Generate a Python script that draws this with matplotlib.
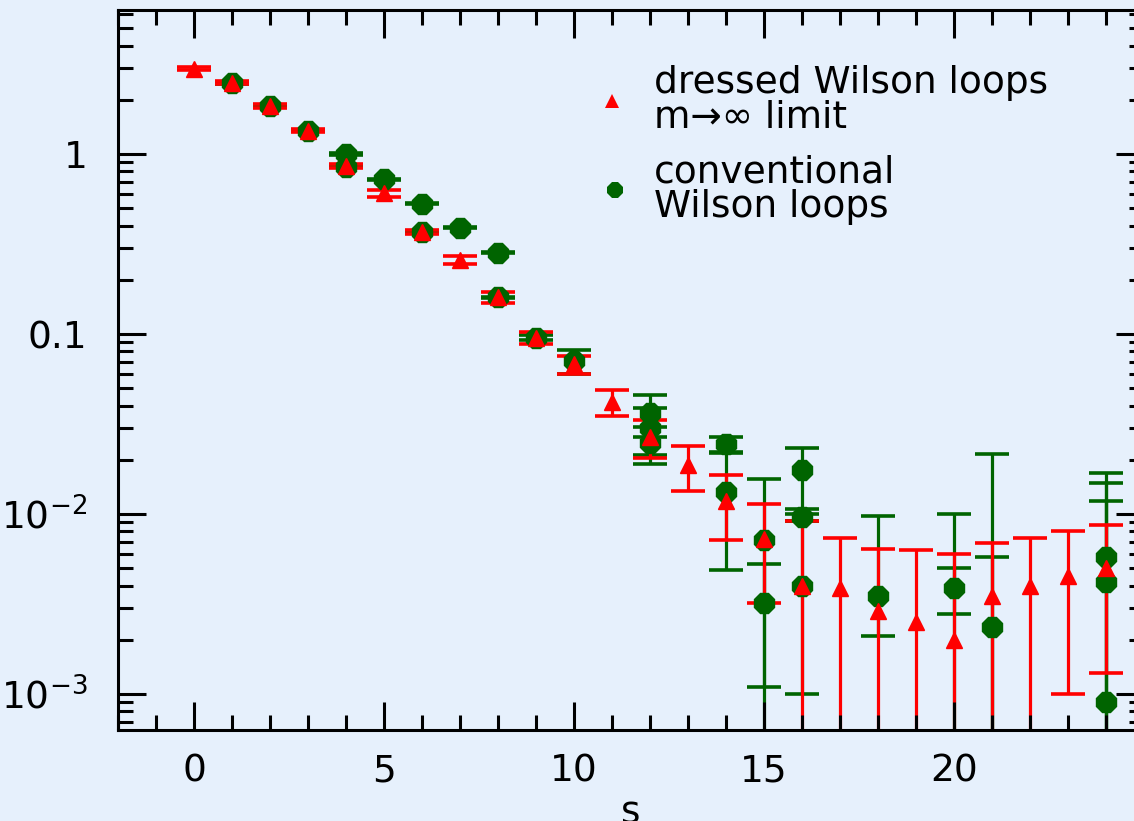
import matplotlib
matplotlib.use('Agg')
import matplotlib.pyplot as plt
import numpy as np
from matplotlib.ticker import FixedLocator, FixedFormatter, MultipleLocator, LogLocator, NullFormatter

# dressed Wilson loops, m -> infinity limit
s_dressed = [0, 1, 2, 3, 4, 5, 6, 7, 8, 9, 10, 11, 12, 13, 14, 15, 16, 17, 18, 19, 20, 21, 22, 23, 24]
w_dressed = [2.97, 2.49, 1.85, 1.35, 0.86, 0.605, 0.370, 0.258, 0.160, 0.0955, 0.068, 0.0421, 0.0268,
             0.0187, 0.0118, 0.0073, 0.0040, 0.0039, 0.0029, 0.0025, 0.0020, 0.0035, 0.0040, 0.0045, 0.0050]
err_dressed = [0.06, 0.05, 0.04, 0.03, 0.02, 0.025, 0.01, 0.012, 0.011, 0.0075, 0.0078, 0.0069, 0.0064,
               0.0052, 0.0046, 0.0041, 0.0052, 0.0035, 0.0035, 0.0038, 0.0040, 0.0034, 0.0034, 0.0035, 0.0037]

# conventional Wilson loops (several entries at some s)
s_conv = [1, 2, 3, 4, 4, 5, 6, 6, 7, 8, 8, 9, 10, 12, 12, 12, 14, 14, 15, 15,
          16, 16, 16, 18, 20, 20, 21, 21, 24, 24, 24]
w_conv = [2.47, 1.85, 1.35, 1.00, 0.85, 0.723, 0.529, 0.370, 0.390, 0.283, 0.160, 0.0955, 0.071,
          0.0363, 0.0300, 0.0247, 0.0245, 0.0133, 0.0072, 0.0032,
          0.0175, 0.0096, 0.0040, 0.0035, 0.0039, 0.0005, 0.00237, 0.0005, 0.0058, 0.0042, 0.0009]
errlo_conv = [0.02, 0.015, 0.01, 0.008, 0.007, 0.006, 0.004, 0.003, 0.003, 0.002, 0.0015, 0.003, 0.011,
              0.0096, 0.0088, 0.0058, 0.0024, 0.0084, 0.0084, 0.0021,
              0.0068, 0.0004, 0.0030, 0.0014, 0.0011, 0.0095, 0.0034, 0.021, 0.011, 0.0106, 0.0109]
errhi_conv = [0.02, 0.015, 0.01, 0.008, 0.007, 0.006, 0.004, 0.003, 0.003, 0.002, 0.0015, 0.003, 0.011,
              0.0096, 0.0088, 0.0058, 0.0024, 0.0084, 0.0084, 0.0021,
              0.0058, 0.0004, 0.0052, 0.0063, 0.0011, 0.0095, 0.0034, 0.021, 0.011, 0.0106, 0.0109]

legend_dressed = 'dressed Wilson loops\nm\u2192\u221e limit'
legend_conv = 'conventional\nWilson loops'

xtick_vals = [0, 5, 10, 15, 20]
ytick_vals = [1e-3, 1e-2, 0.1, 1]
ytick_labels = ['$10^{-3}$', '$10^{-2}$', '0.1', '1']

bg = '#e6f0fc'
red = '#ff0000'
green = '#006400'

plt.rcParams['font.family'] = ['DejaVu Sans']
plt.rcParams['mathtext.fontset'] = 'dejavusans'

fig = plt.figure(figsize=(11.34, 8.21), dpi=100, facecolor=bg)
ax = fig.add_axes([0.10406, 0.11084, 0.90476, 0.87698])
ax.set_facecolor(bg)
ax.set_yscale('log')

ax.errorbar(s_conv, w_conv, yerr=[errlo_conv, errhi_conv], fmt='8', color=green, ms=15,
            mec=green, elinewidth=2.3, capsize=12, capthick=2.6, ecolor=green)
ax.errorbar(s_dressed, w_dressed, yerr=err_dressed, fmt='^', color=red, ms=12,
            mec=red, elinewidth=2.3, capsize=12, capthick=2.6, ecolor=red)

ax.set_xlim(-2, 25)
ax.set_ylim(10 ** -3.2, 10 ** 0.8)

ax.xaxis.set_major_locator(FixedLocator(xtick_vals))
ax.xaxis.set_minor_locator(MultipleLocator(1))
ax.yaxis.set_major_locator(FixedLocator(ytick_vals))
ax.yaxis.set_major_formatter(FixedFormatter(ytick_labels))
ax.yaxis.set_minor_locator(LogLocator(base=10, subs=np.arange(2, 10)))
ax.yaxis.set_minor_formatter(NullFormatter())

ax.tick_params(which='both', direction='in', top=True, right=True, width=2.2, color='black')
ax.tick_params(which='major', length=20)
ax.tick_params(which='minor', length=10.5)
ax.tick_params(axis='x', which='major', labelsize=27, pad=17)
ax.tick_params(axis='y', which='major', labelsize=27, pad=22)
ax.set_axisbelow(False)
for sp in ax.spines.values():
    sp.set_linewidth(2.2)

ax.set_xlabel('s', fontsize=27, labelpad=4)

# legend
ax.plot([0.4815], [0.874], '^', color=red, ms=10, mew=0, transform=ax.transAxes, clip_on=False)
ax.plot([0.4844], [0.750], '8', color=green, ms=12, mew=0, transform=ax.transAxes, clip_on=False)
ax.text(0.5224, 0.874, legend_dressed, transform=ax.transAxes, fontsize=27, va='center',
        ha='left', linespacing=0.95)
ax.text(0.5224, 0.750, legend_conv, transform=ax.transAxes, fontsize=27, va='center',
        ha='left', linespacing=0.95)

fig.savefig('out.png', dpi=100, facecolor=bg)
